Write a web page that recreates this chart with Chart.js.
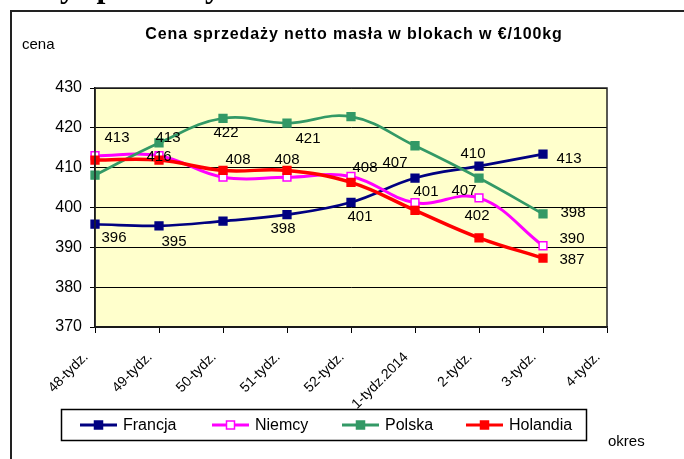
<!DOCTYPE html>
<html>
<head>
<meta charset="utf-8">
<script src="https://cdn.jsdelivr.net/npm/chart.js@4"></script>
<style>
  html, body { margin: 0; padding: 0; background: #fff; }
  #wrap { position: relative; width: 684px; height: 459px; }
</style>
</head>
<body>
<div id="wrap"><canvas id="priceChart"></canvas></div>
<script>
// data
const categories = ['48-tydz.', '49-tydz.', '50-tydz.', '51-tydz.', '52-tydz.', '1-tydz.2014', '2-tydz.', '3-tydz.', '4-tydz.'];
const francja  = [395.8, 395.4, 396.6, 398.2, 401.3, 407.4, 410.4, 413.4, null];
const niemcy   = [413.0, 413.0, 407.6, 407.6, 407.8, 401.2, 402.4, 390.4, null];
const polska   = [408.1, 416.2, 422.4, 421.2, 422.8, 415.5, 407.4, 398.4, null];
const holandia = [411.9, 411.9, 409.3, 409.3, 406.3, 399.3, 392.4, 387.3, null];
const yTicks = [370, 380, 390, 400, 410, 420, 430];

// where each value label sits relative to its point (null = no label)
const francjaLabelAt  = [[19, 14], [15, 16], null, [-4, 14], [9, 15], [-20, -15], [-6, -12], [26, 5], null];
const niemcyLabelAt   = [[22, -18], [9, -18], [15, -17], [0, -17], [14, -9], [11, -11], [-2, 18], [29, -7], null];
const polskaLabelAt   = [null, [0, 14], [3, 15], [21, 16], null, null, [-15, 13], [30, -1], null];
const holandiaLabelAt = [null, null, null, null, null, null, null, [29, 2], null];

const FONT = '"Liberation Sans", Arial, sans-serif';

function series(label, data, color, width, fill, labelAt, order) {
    return {
        label: label,
        data: data,
        borderColor: color,
        backgroundColor: fill,
        borderWidth: width,
        tension: 0.4,
        pointStyle: 'rect',
        pointRadius: 5.5,
        pointBorderWidth: 1.5,
        pointBorderColor: color,
        pointBackgroundColor: fill,
        labelAt: labelAt,
        order: order
    };
}

const chromePlugin = {
    id: 'chrome',
    beforeDraw(chart) {
        const { ctx, chartArea: a } = chart;
        ctx.save();
        // page header cut at the top
        ctx.fillStyle = '#000';
        ctx.font = 'bold 32px "Liberation Serif", "Times New Roman", serif';
        ctx.textBaseline = 'alphabetic';
        ctx.fillText('Ceny sprzedaży', 5, -3);
        // outer frame
        ctx.strokeStyle = '#222';
        ctx.lineWidth = 2;
        ctx.beginPath();
        ctx.moveTo(11, 470);
        ctx.lineTo(11, 11);
        ctx.lineTo(700, 11);
        ctx.stroke();
        // plot background
        ctx.fillStyle = '#FFFFCC';
        ctx.fillRect(a.left, a.top, a.right - a.left, a.bottom - a.top);
        // title and axis captions
        ctx.fillStyle = '#000';
        ctx.font = 'bold 16px ' + FONT;
        ctx.letterSpacing = '0.9px';
        ctx.textAlign = 'center';
        ctx.textBaseline = 'middle';
        ctx.fillText('Cena sprzedaży netto masła w blokach w €/100kg', 354, 35);
        ctx.letterSpacing = '0px';
        ctx.font = '15px ' + FONT;
        ctx.textAlign = 'left';
        ctx.fillText('cena', 22, 45);
        ctx.fillText('okres', 608, 442);
        ctx.restore();
    },
    afterDraw(chart) {
        const { ctx, chartArea: a } = chart;
        ctx.save();
        ctx.strokeStyle = '#222';
        ctx.lineWidth = 1.5;
        ctx.strokeRect(a.left, a.top, a.right - a.left, a.bottom - a.top);
        // legend
        ctx.strokeStyle = '#000';
        ctx.lineWidth = 1.5;
        ctx.strokeRect(61.5, 409.5, 525, 31);
        const starts = [80, 212, 342, 466];
        ctx.font = '16px ' + FONT;
        ctx.textBaseline = 'middle';
        ctx.textAlign = 'left';
        chart.data.datasets.forEach((ds, i) => {
            const x = starts[i], y = 425;
            ctx.strokeStyle = ds.borderColor;
            ctx.lineWidth = 3;
            ctx.beginPath();
            ctx.moveTo(x, y);
            ctx.lineTo(x + 37, y);
            ctx.stroke();
            ctx.fillStyle = ds.pointBackgroundColor;
            ctx.fillRect(x + 14.5, y - 4, 8, 8);
            ctx.lineWidth = 1.5;
            ctx.strokeRect(x + 14.5, y - 4, 8, 8);
            ctx.fillStyle = '#000';
            ctx.fillText(ds.label, x + 43, y + 1);
        });
        ctx.restore();
    },
    afterDatasetsDraw(chart) {
        const { ctx } = chart;
        ctx.save();
        ctx.font = '15px ' + FONT;
        ctx.fillStyle = '#000';
        ctx.textAlign = 'center';
        ctx.textBaseline = 'middle';
        chart.data.datasets.forEach((ds, i) => {
            const meta = chart.getDatasetMeta(i);
            meta.data.forEach((pt, j) => {
                const at = ds.labelAt[j];
                if (!at || ds.data[j] == null) return;
                ctx.fillText(String(Math.round(ds.data[j])), pt.x + at[0], pt.y + at[1]);
            });
        });
        ctx.restore();
    }
};

new Chart(document.getElementById('priceChart'), {
    type: 'line',
    data: {
        labels: categories,
        datasets: [
            series('Francja', francja, '#000080', 2.7, '#000080', francjaLabelAt, 3),
            series('Niemcy', niemcy, '#FF00FF', 3, '#FFFFFF', niemcyLabelAt, 2),
            series('Polska', polska, '#339966', 2.7, '#339966', polskaLabelAt, 1),
            series('Holandia', holandia, '#FF0000', 3.5, '#FF0000', holandiaLabelAt, 0)
        ]
    },
    options: {
        responsive: true,
        maintainAspectRatio: false,
        animation: false,
        layout: { padding: { top: 88, right: 77, left: 0, bottom: 0 } },
        plugins: {
            legend: { display: false },
            tooltip: { enabled: false },
            title: { display: false }
        },
        scales: {
            y: {
                min: 370,
                max: 430,
                afterBuildTicks: scale => { scale.ticks = yTicks.map(v => ({ value: v })); },
                afterFit: scale => { scale.width = 95; },
                ticks: {
                    color: '#000',
                    padding: 8,
                    font: { family: FONT, size: 16 }
                },
                grid: { color: '#000', lineWidth: 1, tickLength: 5, tickColor: '#000' },
                border: { color: '#000', width: 1.5 }
            },
            x: {
                offset: false,
                afterFit: scale => {
                    scale.height = 132;
                    scale.paddingLeft = 0;
                    scale.paddingRight = 0;
                },
                ticks: {
                    color: '#000',
                    autoSkip: false,
                    minRotation: 45,
                    maxRotation: 45,
                    padding: 16,
                    labelOffset: -9,
                    font: { family: FONT, size: 14 }
                },
                grid: { drawOnChartArea: false, tickLength: 6, tickColor: '#000', lineWidth: 1 },
                border: { color: '#000', width: 1.5 }
            }
        }
    },
    plugins: [chromePlugin]
});
</script>
</body>
</html>
